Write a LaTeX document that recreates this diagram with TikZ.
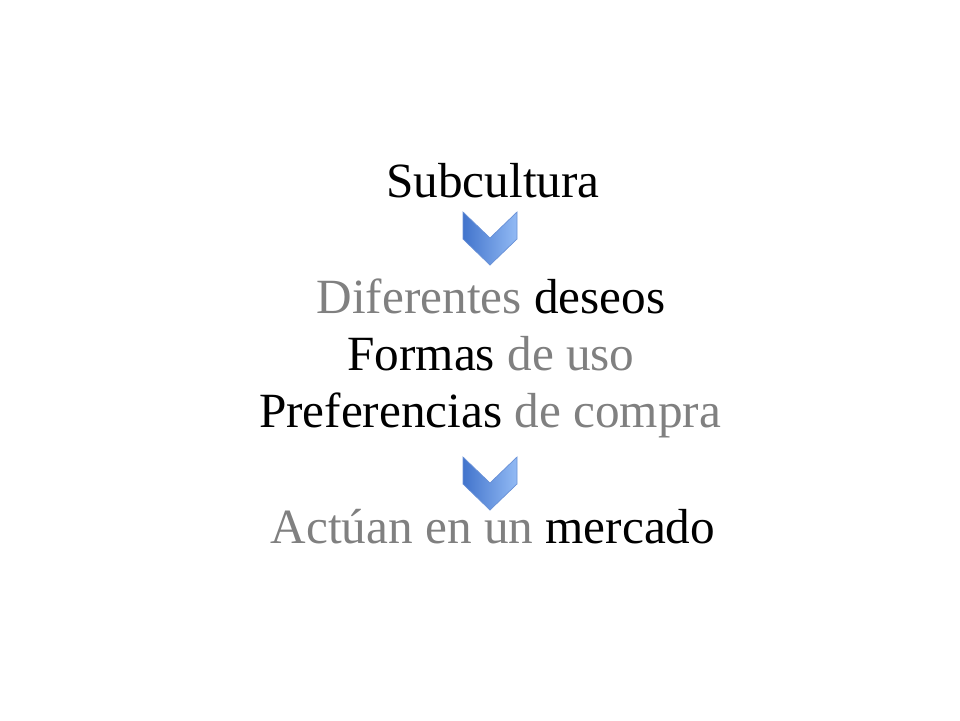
\documentclass[tikz,border=0pt]{standalone}
\usepackage{fontspec}
\setmainfont{Liberation Serif}
\usepackage{xcolor}
\definecolor{softgray}{RGB}{128,128,128}
\definecolor{chevdark}{RGB}{66,116,204}
\definecolor{chevlight}{RGB}{146,186,244}
\tikzset{
  line/.style={anchor=base, font=\fontsize{14}{16}\selectfont},
  chevron/.style={left color=chevdark, right color=chevlight, draw=chevdark!80, line width=0.2pt}
}
\newcommand{\gr}[1]{\textcolor{softgray}{#1}}

\begin{document}
\begin{tikzpicture}[x=0.01cm, y=-0.01cm]
      \useasboundingbox (0,0) rectangle (960,720);
      \node[line] (sub)  at (493,197) {Subcultura};
      \node[line] (des)  at (491,313) {\gr{Diferentes} deseos};
      \node[line] (uso)  at (491,370) {Formas \gr{de uso}};
      \node[line] (pref) at (490,427) {Preferencias \gr{de compra}};
      \node[line] (merc) at (493,543) {\gr{Actúan en un} mercado};

      \coordinate (c1) at (490,212);
      \coordinate (c2) at (490,457);
      \foreach \c in {c1,c2}{
        \begin{scope}[shift=(\c)]
          \path[chevron] (-27,0) -- (0,26) -- (27,0) -- (27,27) -- (0,53) -- (-27,27) -- cycle;
        \end{scope}
      }
    \end{tikzpicture}
\end{document}
